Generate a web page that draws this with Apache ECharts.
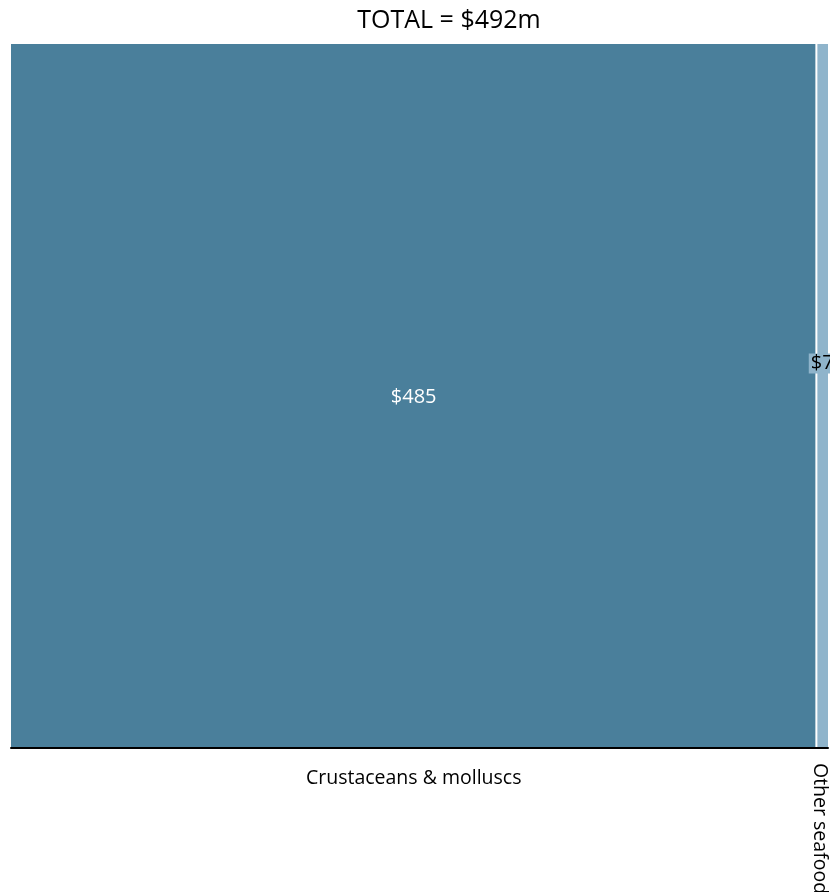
<!DOCTYPE html>
<html><head><meta charset="utf-8">
<script src="https://cdn.jsdelivr.net/npm/echarts@6/dist/echarts.min.js"></script>
<style>html,body{margin:0;padding:0;background:#fff}#c{width:830px;height:892px}</style>
</head><body><div id="c"></div>
<script>
const categories = ["Crustaceans & molluscs", "Other seafood"];
const values = [485, 7];
const valueLabels = ["$485", "$7"];
const titleText = "TOTAL = $492m";

const colors = ["#4a7f9b", "#8fb4cb"];
const FONT = 'Open Sans';
const total = values.reduce((a, b) => a + b, 0);
let acc = 0;
const data = values.map((v, i) => { const s = acc; acc += v; return [s, acc, v, i]; });

const chart = echarts.init(document.getElementById('c'));
chart.setOption({
  animation: false,
  title: { text: titleText, left: 444, top: 3, textAlign: 'center',
    textStyle: { fontFamily: FONT, fontWeight: 'normal', fontSize: 25, color: '#000' } },
  grid: { left: 11, right: 2, top: 44, bottom: 144 },
  xAxis: { type: 'value', min: 0, max: total, axisLine: { show: true, onZero: false, lineStyle: { color: '#000', width: 2 } },
    axisTick: { show: false }, axisLabel: { show: false }, splitLine: { show: false } },
  yAxis: { type: 'value', min: 0, max: 1, show: false },
  series: [{
    type: 'custom',
    data: data,
    renderItem: function (params, api) {
      const s = api.value(0), e = api.value(1), idx = api.value(3);
      const p0 = api.coord([s, 1]);
      const p1 = api.coord([e, 0]);
      const x0 = p0[0] + (idx > 0 ? 1 : 0);
      const x1 = p1[0] - (idx < values.length - 1 ? 1 : 0);
      const y0 = p0[1], y1 = p1[1] - 1;
      const cx = (p0[0] + p1[0]) / 2;
      const children = [{
        type: 'rect', shape: { x: x0, y: y0, width: x1 - x0, height: y1 - y0 },
        style: { fill: colors[idx] }
      }];
      const wide = (x1 - x0) > 60;
      children.push({
        type: 'text',
        x: cx, y: wide ? (y0 + y1) / 2 + 2 : (y0 + y1) / 2 - 32,
        style: {
          text: valueLabels[idx], fontFamily: FONT, fontSize: 20,
          fill: wide ? '#fff' : '#000', align: 'center', verticalAlign: 'middle',
          backgroundColor: wide ? null : colors[idx], padding: wide ? 0 : [0, 2, 0, 2]
        }
      });
      if (wide) {
        children.push({ type: 'text', x: cx, y: p1[1] + 30,
          style: { text: categories[idx], fontFamily: FONT, fontSize: 19.5, fill: '#000', align: 'center', verticalAlign: 'middle' } });
      } else {
        children.push({ type: 'text', x: cx - 3, y: p1[1] + 15, rotation: -Math.PI / 2,
          style: { text: categories[idx], fontFamily: FONT, fontSize: 19.5, fill: '#000', align: 'left', verticalAlign: 'middle' } });
      }
      return { type: 'group', children: children };
    }
  }]
});
</script></body></html>
